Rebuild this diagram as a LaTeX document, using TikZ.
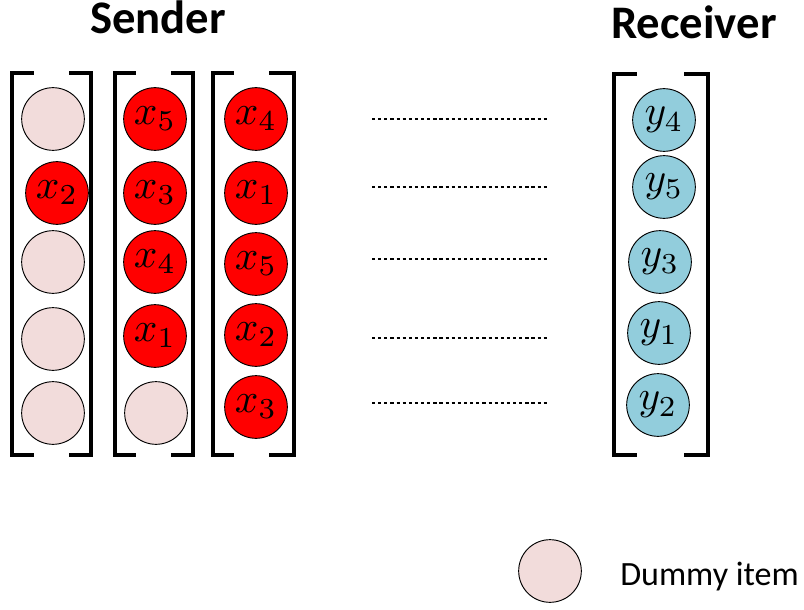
\documentclass[tikz,border=0pt]{standalone}
\usepackage{fontspec}
\setmainfont{Carlito}
\definecolor{dummyc}{HTML}{F2DCDB}
\definecolor{recvc}{HTML}{92CDDC}
\newcommand{\balllbl}[1]{\scalebox{3.1}{$#1$}}
\begin{document}
\begin{tikzpicture}[x=0.75pt,y=-0.75pt,
  ball/.style={circle,draw=black,line width=0.7pt,minimum size=47pt,inner sep=0pt},
  dummy/.style={ball,fill=dummyc},
  sent/.style={ball,fill=red},
  recv/.style={ball,fill=recvc},
  brack/.style={line width=2.6pt,line cap=rect},
  dots/.style={line width=1pt,dash pattern=on 2.4pt off 2.2pt},
  title/.style={font=\fontsize{35}{35}\selectfont\bfseries,anchor=base}]
\useasboundingbox (0,0) rectangle (804,610);
% titles
\node[title] (sender) at (158,34) {Sender};
\node[title] (receiver) at (694,39) {Receiver};
% brackets
\draw[brack] (32,73) -- (12,73) -- (12,455) -- (32,455);
\draw[brack] (71,73) -- (91,73) -- (91,455) -- (71,455);
\draw[brack] (134,73) -- (115,73) -- (115,455) -- (134,455);
\draw[brack] (173,73) -- (193,73) -- (193,455) -- (173,455);
\draw[brack] (232,73) -- (213,73) -- (213,455) -- (232,455);
\draw[brack] (271,73) -- (294,73) -- (294,455) -- (271,455);
\draw[brack] (635,74) -- (614,74) -- (614,455) -- (635,455);
\draw[brack] (686,74) -- (708,74) -- (708,455) -- (686,455);
% column 1
\node[dummy] (a1) at (53,119) {};
\node[sent]  (a2) at (57,193) {\balllbl{x_2}};
\node[dummy] (a3) at (53,262) {};
\node[dummy] (a4) at (53,339) {};
\node[dummy] (a5) at (53,413) {};
% column 2
\node[sent]  (b1) at (155,119) {\balllbl{x_5}};
\node[sent]  (b2) at (155,193) {\balllbl{x_3}};
\node[sent]  (b3) at (155,262) {\balllbl{x_4}};
\node[sent]  (b4) at (155,336) {\balllbl{x_1}};
\node[dummy] (b5) at (156,413) {};
% column 3
\node[sent] (c1) at (256,119) {\balllbl{x_4}};
\node[sent] (c2) at (256,193) {\balllbl{x_1}};
\node[sent] (c3) at (256,264) {\balllbl{x_5}};
\node[sent] (c4) at (256,335) {\balllbl{x_2}};
\node[sent] (c5) at (256,407) {\balllbl{x_3}};
% receiver
\node[recv] (r1) at (664,120) {\balllbl{y_4}};
\node[recv] (r2) at (664,187) {\balllbl{y_5}};
\node[recv] (r3) at (660,262) {\balllbl{y_3}};
\node[recv] (r4) at (659,333) {\balllbl{y_1}};
\node[recv] (r5) at (658,405) {\balllbl{y_2}};
% dotted lines
\foreach \i/\y in {1/119,2/187,3/259,4/338,5/403}{
  \coordinate (l\i) at (372,\y);
  \coordinate (m\i) at (547,\y);
  \draw[dots] (l\i) -- (m\i);
}
% legend
\node[dummy] (leg) at (550,571) {};
\node[font=\fontsize{25.5}{25.5}\selectfont,anchor=base west,inner sep=0pt] (legtext) at (620,585) {Dummy item};
\end{tikzpicture}
\end{document}
